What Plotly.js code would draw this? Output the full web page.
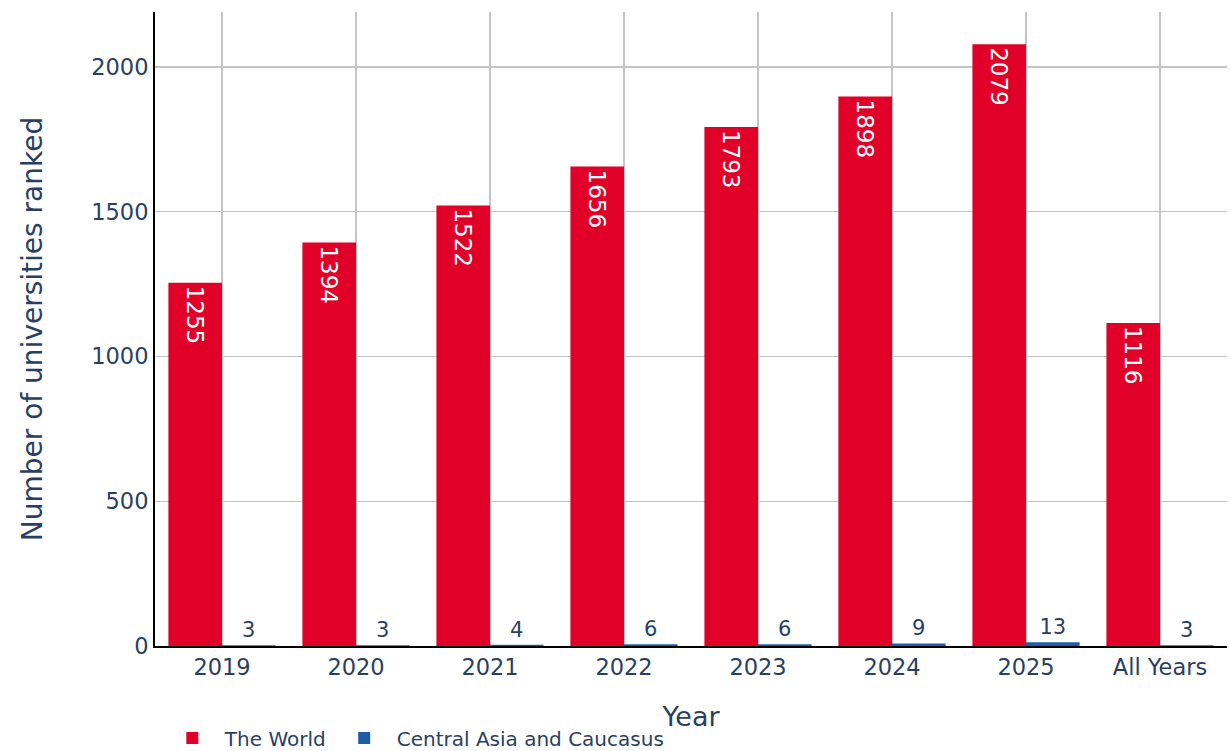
<!DOCTYPE html>
<html>
<head>
<meta charset="utf-8">
<script src="https://cdn.plot.ly/plotly-3.0.1.min.js"></script>
<style>html,body{margin:0;padding:0;background:#fff;}#chart{width:1230px;height:751px;}</style>
</head>
<body>
<div id="chart"></div>
<script>
const years = ["2019", "2020", "2021", "2022", "2023", "2024", "2025", "All Years"];
const worldValues = [1255, 1394, 1522, 1656, 1793, 1898, 2079, 1116];
const centralAsiaValues = [3, 3, 4, 6, 6, 9, 13, 3];
const seriesNames = ["The World", "Central Asia and Caucasus"];

const FONT = "DejaVu Sans, Verdana, sans-serif";
const TXT = "#2a3f5f";

const data = [
  {
    type: "bar", name: seriesNames[0], x: years, y: worldValues,
    marker: {color: "#e10028"},
    text: worldValues.map(String), textposition: "inside", insidetextanchor: "end",
    textangle: 90, textfont: {color: "#ffffff", size: 23, family: FONT},
    cliponaxis: false
  },
  {
    type: "bar", name: seriesNames[1], x: years, y: centralAsiaValues,
    marker: {color: "#1f5ca8"},
    text: centralAsiaValues.map(String), textposition: "outside",
    textangle: 0, textfont: {color: TXT, size: 21, family: FONT},
    cliponaxis: false
  }
];

const layout = {
  width: 1230, height: 751,
  margin: {l: 155, r: 3, t: 12, b: 105, autoexpand: false},
  paper_bgcolor: "#ffffff", plot_bgcolor: "#ffffff",
  font: {family: FONT, color: TXT, size: 22},
  barmode: "group", bargap: 0.2, bargroupgap: 0,
  showlegend: true,
  legend: {orientation: "h", x: 0.0045, xanchor: "left", y: -0.145, yanchor: "middle",
           itemwidth: 55,
           font: {size: 20, family: FONT, color: TXT}, bgcolor: "rgba(0,0,0,0)"},
  xaxis: {
    type: "category", range: [-0.5, 7.5],
    showgrid: true, gridcolor: "#c4c4c4", gridwidth: 1.3,
    showline: true, linecolor: "#000000", linewidth: 2,
    ticks: "", tickfont: {size: 22.5, family: FONT, color: TXT},
    title: {text: "Year", font: {size: 27, family: FONT, color: TXT}, standoff: 28}
  },
  yaxis: {
    range: [0, 2190], tickvals: [0, 500, 1000, 1500, 2000],
    showgrid: true, gridcolor: "#c4c4c4", gridwidth: 1.3, zeroline: false,
    showline: true, linecolor: "#000000", linewidth: 2,
    ticks: "", tickfont: {size: 22.5, family: FONT, color: TXT},
    title: {text: "Number of universities ranked", font: {size: 28, family: FONT, color: TXT}, standoff: 40}
  }
};

Plotly.newPlot("chart", data, layout, {displayModeBar: false, staticPlot: true});
</script>
</body>
</html>
